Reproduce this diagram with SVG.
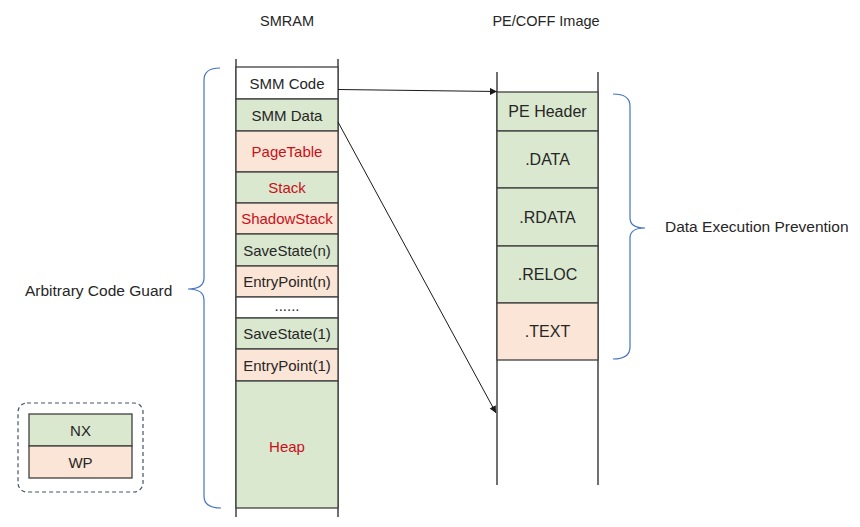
<svg xmlns="http://www.w3.org/2000/svg" width="860" height="527" viewBox="0 0 860 527">
<defs>
<style>
text{font-family:"Liberation Sans",Arial,sans-serif;font-size:15px;fill:#262626;text-anchor:middle;dominant-baseline:central}
.pe text{font-size:16px}
.ttl{font-size:14.5px}
.red{fill:#C8101A}
.lab{text-anchor:start;font-size:15.5px}
.g{fill:#DAE8CF;stroke:#404040;stroke-width:1.3}
.p{fill:#FBE5D6;stroke:#404040;stroke-width:1.3}
.w{fill:#FFFFFF;stroke:#404040;stroke-width:1.3}
.rail{stroke:#404040;stroke-width:1.5;fill:none}
.brace{fill:none;stroke:#4472C4;stroke-width:1.2}
.conn{stroke:#1a1a1a;stroke-width:1;fill:none;marker-end:url(#ah)}
</style>
<marker id="ah" viewBox="0 0 10 10" refX="10" refY="5" markerWidth="7" markerHeight="7" markerUnits="userSpaceOnUse" orient="auto">
<path d="M0,0 L10,5 L0,10 z" fill="#1a1a1a"/>
</marker>
</defs>
<rect width="860" height="527" fill="#FFFFFF"/>
<text class="ttl" x="287" y="21">SMRAM</text>
<text class="ttl" x="546" y="21">PE/COFF Image</text>
<g id="smram">
<line class="rail" x1="236" y1="59" x2="236" y2="517"/>
<line class="rail" x1="338" y1="59" x2="338" y2="517"/>
<g id="smm-code"><rect class="w" x="236" y="67" width="102" height="32"/><text x="287" y="83">SMM Code</text></g>
<g id="smm-data"><rect class="g" x="236" y="99" width="102" height="32"/><text x="287" y="115">SMM Data</text></g>
<g id="pagetable"><rect class="p" x="236" y="131" width="102" height="41"/><text class="red" x="287" y="151.5">PageTable</text></g>
<g id="stack"><rect class="g" x="236" y="172" width="102" height="31"/><text class="red" x="287" y="187.5">Stack</text></g>
<g id="shadowstack"><rect class="p" x="236" y="203" width="102" height="31"/><text class="red" x="287" y="218.5">ShadowStack</text></g>
<g id="savestate-n"><rect class="g" x="236" y="234" width="102" height="32"/><text x="287" y="250">SaveState(n)</text></g>
<g id="entrypoint-n"><rect class="p" x="236" y="266" width="102" height="31"/><text x="287" y="281.5">EntryPoint(n)</text></g>
<g id="dots"><rect class="w" x="236" y="297" width="102" height="21"/><text x="287" y="305">......</text></g>
<g id="savestate-1"><rect class="g" x="236" y="318" width="102" height="31"/><text x="287" y="333.5">SaveState(1)</text></g>
<g id="entrypoint-1"><rect class="p" x="236" y="349" width="102" height="32"/><text x="287" y="365">EntryPoint(1)</text></g>
<g id="heap"><rect class="g" x="236" y="381" width="102" height="127"/><text class="red" x="287" y="446">Heap</text></g>
</g>
<g id="pecoff" class="pe">
<line class="rail" x1="497" y1="72" x2="497" y2="485"/>
<line class="rail" x1="598" y1="72" x2="598" y2="485"/>
<g id="pe-header"><rect class="g" x="497" y="92" width="101" height="39"/><text x="547.5" y="111.5">PE Header</text></g>
<g id="data"><rect class="g" x="497" y="131" width="101" height="57"/><text x="547.5" y="159.5">.DATA</text></g>
<g id="rdata"><rect class="g" x="497" y="188" width="101" height="58"/><text x="547.5" y="217">.RDATA</text></g>
<g id="reloc"><rect class="g" x="497" y="246" width="101" height="57"/><text x="547.5" y="274.5">.RELOC</text></g>
<g id="text-sec"><rect class="p" x="497" y="303" width="101" height="57"/><text x="547.5" y="331.5">.TEXT</text></g>
</g>
<g id="acg">
<path class="brace" d="M220,68 Q204,68 204,80 L204,278 Q204,289 188,289 Q204,289 204,300 L204,496 Q204,508 221,508"/>
<text class="lab" x="25" y="290">Arbitrary Code Guard</text>
</g>
<g id="dep">
<path class="brace" d="M613,94 Q630,94 630,106 L630,218 Q630,228 645,228 Q630,228 630,238 L630,347 Q630,359 613,359"/>
<text class="lab" x="665" y="226">Data Execution Prevention</text>
</g>
<g id="legend">
<rect x="18" y="403" width="125" height="89" rx="9" ry="9" fill="none" stroke="#44546A" stroke-width="1.2" stroke-dasharray="4,3"/>
<g id="nx"><rect class="g" x="29" y="414" width="103" height="32"/><text x="80.5" y="430">NX</text></g>
<g id="wp"><rect class="p" x="29" y="446" width="103" height="32"/><text x="80.5" y="462">WP</text></g>
</g>
<g id="connectors">
<path class="conn" d="M338,89.5 L497,91.5"/>
<path class="conn" d="M338,122 L496,413"/>
</g>
</svg>
